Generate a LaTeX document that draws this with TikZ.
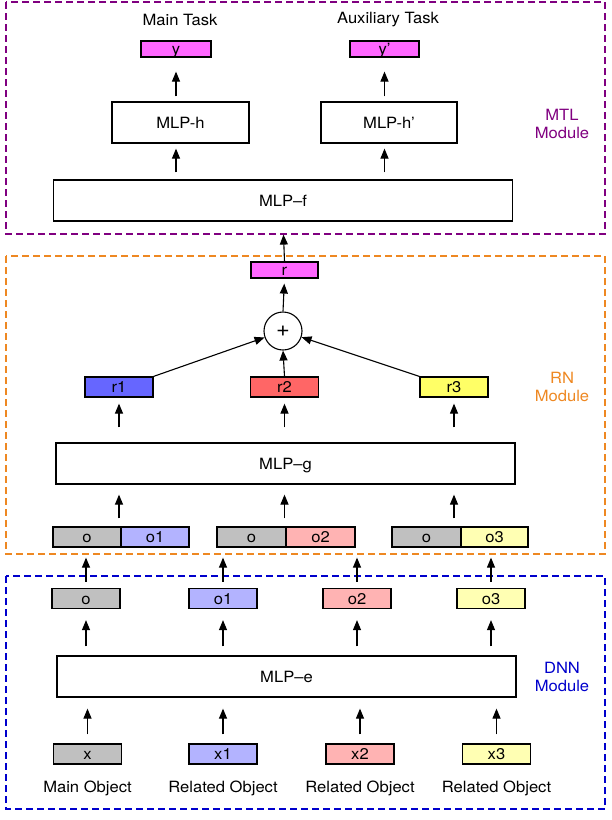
\documentclass[tikz,border=0pt]{standalone}
\usepackage{fontspec}
\setmainfont{TeX Gyre Heros}[FakeStretch=1.07]
\usetikzlibrary{arrows.meta}
\definecolor{grayc}{HTML}{C0C0C0}
\definecolor{magc}{HTML}{FF66FF}
\definecolor{blueD}{HTML}{6666FF}
\definecolor{redD}{HTML}{FF6666}
\definecolor{yelD}{HTML}{FFFF66}
\definecolor{blueL}{HTML}{B3B3FF}
\definecolor{redL}{HTML}{FFB3B3}
\definecolor{yelL}{HTML}{FFFFB3}
\definecolor{mtlc}{HTML}{800080}
\definecolor{rnc}{HTML}{EE8822}
\definecolor{dnnc}{HTML}{0000CC}
\begin{document}
\begin{tikzpicture}[x=1pt,y=-1pt,
    every node/.style={font=\fontsize{15.5}{18.5}\selectfont},
    cell/.style={draw, line width=1.2pt, inner sep=0pt, minimum width=68pt, minimum height=20pt, text height=11pt, text depth=0pt},
    mlp/.style={draw, line width=1.2pt, inner sep=0pt, minimum height=41pt, text height=11pt, text depth=0pt},
    arr/.style={-{Triangle[length=10pt,width=8pt]}, line width=1.1pt},
    module/.style={dash pattern=on 7pt off 4pt, line width=1.2pt},
    modlabel/.style={align=center}]
    \useasboundingbox (0,0) rectangle (612,820);
    % module frames
    \draw[module, mtlc] (6,2) rectangle (605,234);
    \draw[module, rnc] (6,256) rectangle (605,554);
    \draw[module, dnnc] (6,576) rectangle (605,809);
    \node[modlabel, text=mtlc] (mtl) at (562,124) {MTL\\Module};
    \node[modlabel, text=rnc] (rn) at (562,387) {RN\\Module};
    \node[modlabel, text=dnnc] (dnn) at (562,677) {DNN\\Module};

    % DNN module
    \foreach \n/\x/\c/\t/\s in {x/87.5/grayc/x/Main, x1/223/blueL/x1/Related, x2/360/redL/x2/Related, x3/496.5/yelL/x3/Related}{
        \node[cell, fill=\c] (\n) at (\x,754) {\t};
        \node (lbl\n) at (\x,788) {\s{} Object};
    }
    \node[mlp, minimum width=459pt] (mlpe) at (286.5,676.5) {MLP--e};
    \foreach \n/\x/\c/\t in {o/86/grayc/o, o1/223/blueL/o1, o2/357/redL/o2, o3/491/yelL/o3}{
        \node[cell, fill=\c] (\n) at (\x,598.5) {\t};
    }
    \foreach \a/\b in {x/o, x1/o1, x2/o2, x3/o3}{
        \draw[arr, shorten <=9pt, shorten >=11pt] (\a.north) -- (\a.north |- mlpe.south);
        \draw[arr, shorten <=9pt, shorten >=11pt] (\b.south |- mlpe.north) -- (\b.south);
    }

    % RN module
    \node[cell, fill=grayc] (p1a) at (87,537) {o};
    \node[cell, fill=blueL] (p1b) at (155,537) {o1};
    \node[cell, fill=grayc, minimum width=69pt] (p2a) at (251.5,537) {o};
    \node[cell, fill=redL, minimum width=69pt] (p2b) at (320.5,537) {o2};
    \node[cell, fill=grayc, minimum width=69pt] (p3a) at (426.5,537) {o};
    \node[cell, fill=yelL, minimum width=67pt] (p3b) at (494.5,537) {o3};
    \foreach \b/\p in {o/p1a, o1/p2a, o2/p2b, o3/p3b}{
        \draw[arr, shorten <=6pt, shorten >=10pt] (\b.north) -- (\b.north |- \p.south);
    }
    \node[mlp, minimum width=459pt] (mlpg) at (285.5,463.5) {MLP--g};
    \node[cell, fill=blueD] (r1) at (119,387) {r1};
    \node[cell, fill=redD] (r2) at (284.5,387) {r2};
    \node[cell, fill=yelD] (r3) at (454,387) {r3};
    \foreach \r/\p in {r1/p1a, r2/p2a, r3/p3a}{
        \draw[arr, shorten <=8pt, shorten >=10pt] (\r |- \p.north) -- (\r |- mlpg.south);
        \draw[arr, shorten <=15pt, shorten >=6pt] (\r |- mlpg.north) -- (\r.south);
    }
    \node[circle, draw, line width=1.1pt, minimum size=38pt, inner sep=0pt, font=\fontsize{22}{22}\selectfont] (plus) at (283,331) {+};
    \draw[arr] (r1.north east) -- (plus);
    \draw[arr] (r2.north) -- (plus.south);
    \draw[arr] (r3.north west) -- (plus);
    \node[cell, fill=magc, minimum width=67pt, minimum height=16pt] (r) at (284.5,270) {r};
    \draw[arr, shorten >=5pt] (plus.north) -- (r.south);

    % MTL module
    \node[mlp, minimum width=459pt] (mlpf) at (283,200.5) {MLP--f};
    \node[mlp, minimum width=137pt] (mlph) at (180.5,122.5) {MLP-h};
    \node[mlp, minimum width=136pt] (mlphp) at (389,122.5) {MLP-h'};
    \node[cell, fill=magc, minimum width=70pt, minimum height=16pt] (yout) at (176,49) {y};
    \node[cell, fill=magc, minimum width=69pt, minimum height=16pt] (ypout) at (384.5,49) {y'};
    \node (main) at (180,20) {Main Task};
    \node (aux) at (388,20) {Auxiliary Task};
    \draw[arr, shorten >=13pt] (r.north) -- (mlpf.south);
    \foreach \o/\h in {yout/mlph, ypout/mlphp}{
        \draw[arr, shorten <=7pt, shorten >=5pt] (\o |- mlpf.north) -- (\o |- \h.south);
        \draw[arr, shorten <=5pt, shorten >=14pt] (\o |- \h.north) -- (\o.south);
    }
\end{tikzpicture}
\end{document}
